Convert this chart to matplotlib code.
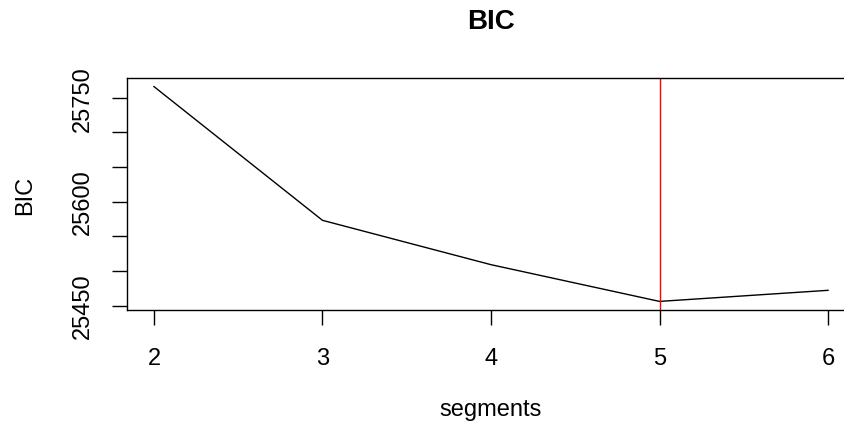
import matplotlib.pyplot as plt

segments = [2, 3, 4, 5, 6]
bic = [25766, 25573, 25509, 25456, 25472]
best_segment = 5
ytick_values = [25450, 25500, 25550, 25600, 25650, 25700, 25750]
ytick_labels = ["25450", "", "", "25600", "", "", "25750"]

plt.rcParams["font.family"] = ["Liberation Sans", "DejaVu Sans"]

fig = plt.figure(figsize=(8.44, 4.35), dpi=100)
ax = fig.add_axes([127 / 844, 124 / 435, 728 / 844, 232 / 435])

ax.plot(segments, bic, color="black", linewidth=1.0)
ax.axvline(best_segment, color="red", linewidth=1.0)

# R style 4% padding
xr = max(segments) - min(segments)
ax.set_xlim(min(segments) - 0.04 * xr, max(segments) + 0.04 * xr)
yr = max(bic) - min(bic)
ax.set_ylim(min(bic) - 0.04 * yr, max(bic) + 0.04 * yr)

ax.set_xticks(segments)
ax.set_xticklabels([str(s) for s in segments])
ax.set_yticks(ytick_values)
ax.set_yticklabels(ytick_labels, rotation=90, va="center")

ax.tick_params(direction="out", length=10.8, width=1.0, labelsize=17)
ax.tick_params(axis="x", pad=16)
ax.tick_params(axis="y", pad=13)
for sp in ax.spines.values():
    sp.set_linewidth(1.0)

ax.set_title("BIC", fontsize=20, fontweight="bold", pad=36)
ax.set_xlabel("segments", fontsize=17, labelpad=21)
ax.set_ylabel("BIC", fontsize=17, labelpad=26)

fig.savefig("out.png", dpi=100)
